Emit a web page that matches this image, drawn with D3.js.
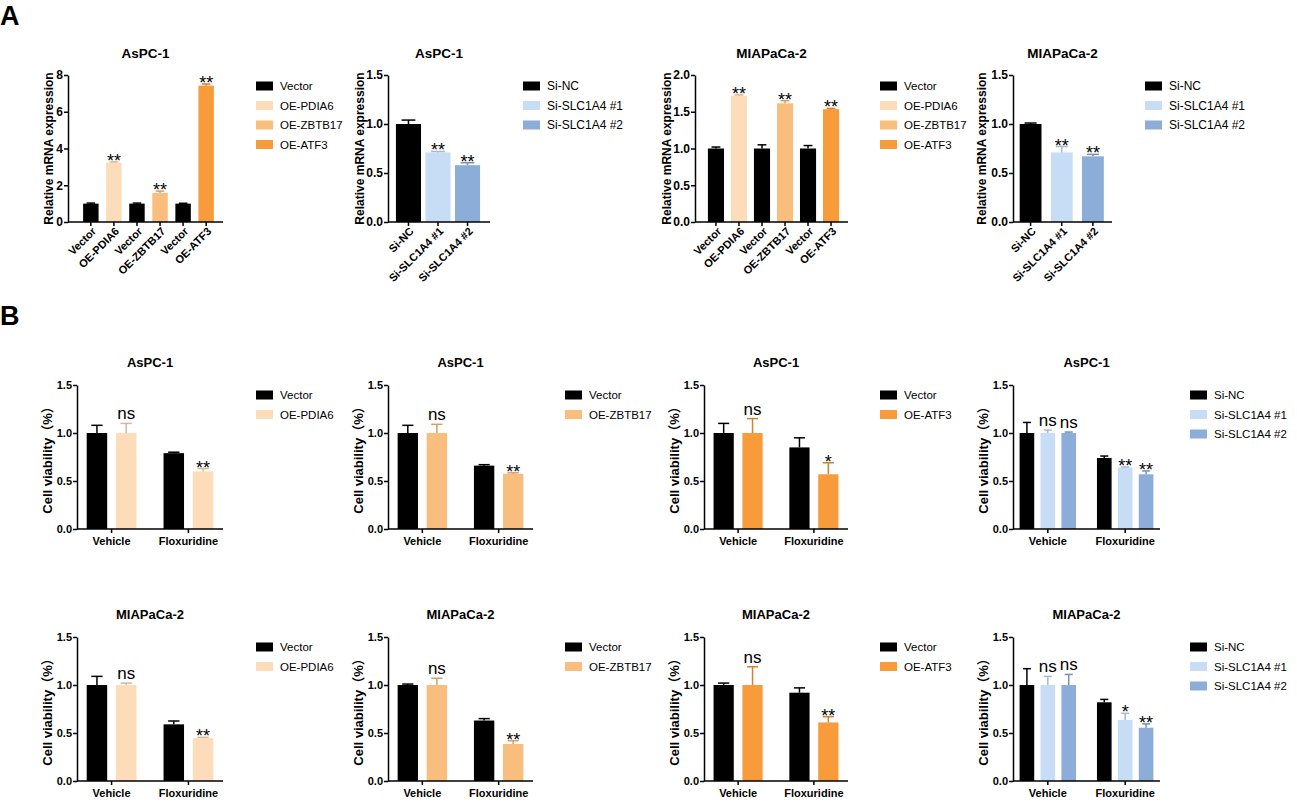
<!DOCTYPE html>
<html lang="en">
<head>
<meta charset="UTF-8">
<title>PDIA6 / ZBTB17 / ATF3 / SLC1A4</title>
<style>
  body { margin: 0; background: #fff; }
  text { font-family: "Liberation Sans", Arial, "Noto Sans CJK SC", sans-serif; fill: #000; }
</style>
</head>
<body>
<svg id="fig" width="1297" height="807"></svg>
<script src="https://cdn.jsdelivr.net/npm/d3@7/dist/d3.min.js"></script>
<script>
// ---------- panel A : qPCR ----------
const oeCats = ["Vector", "OE-PDIA6", "Vector", "OE-ZBTB17", "Vector", "OE-ATF3"]
const siCats = ["Si-NC", "Si-SLC1A4 #1", "Si-SLC1A4 #2"]
const oeLegend = ["Vector", "OE-PDIA6", "OE-ZBTB17", "OE-ATF3"]
const oeSigs = ["", "**", "", "**", "", "**"]
const siSigs = ["", "**", "**"]

const aspcOeMean = [1.00, 3.22, 1.00, 1.58, 1.00, 7.42]
const aspcOeErr  = [0.03, 0.05, 0.03, 0.10, 0.02, 0.09]
const aspcSiMean = [1.00, 0.71, 0.58]
const aspcSiErr  = [0.04, 0.01, 0.025]
const miaOeMean  = [1.00, 1.72, 1.00, 1.615, 1.00, 1.535]
const miaOeErr   = [0.02, 0.01, 0.05, 0.035, 0.04, 0.01]
const miaSiMean  = [1.00, 0.71, 0.67]
const miaSiErr   = [0.01, 0.06, 0.02]

// ---------- panel B : cell viability ----------
const treatments = ["Vehicle", "Floxuridine"]
const pdia6Series = ["Vector", "OE-PDIA6"]
const zbtbSeries  = ["Vector", "OE-ZBTB17"]
const atf3Series  = ["Vector", "OE-ATF3"]
const siSeries    = ["Si-NC", "Si-SLC1A4 #1", "Si-SLC1A4 #2"]

// rows = series, columns = treatments
const aspcPdia6Mean = [[1.00, 0.79], [1.00, 0.60]]
const aspcPdia6Err  = [[0.08, 0.01], [0.10, 0.03]]
const aspcPdia6Sig  = [["", ""], ["ns", "**"]]
const aspcZbtbMean  = [[1.00, 0.66], [1.00, 0.575]]
const aspcZbtbErr   = [[0.08, 0.01], [0.09, 0.01]]
const aspcZbtbSig   = [["", ""], ["ns", "**"]]
const aspcAtf3Mean  = [[1.00, 0.85], [1.00, 0.57]]
const aspcAtf3Err   = [[0.10, 0.10], [0.15, 0.12]]
const aspcAtf3Sig   = [["", ""], ["ns", "*"]]
const aspcSiMeanB   = [[1.00, 0.74], [1.00, 0.64], [1.00, 0.57]]
const aspcSiErrB    = [[0.11, 0.02], [0.03, 0.005], [0.01, 0.035]]
const aspcSiSigB    = [["", ""], ["ns", "**"], ["ns", "**"]]

const miaPdia6Mean = [[1.00, 0.59], [1.00, 0.445]]
const miaPdia6Err  = [[0.09, 0.035], [0.02, 0.01]]
const miaPdia6Sig  = [["", ""], ["ns", "**"]]
const miaZbtbMean  = [[1.00, 0.63], [1.00, 0.385]]
const miaZbtbErr   = [[0.01, 0.02], [0.07, 0.035]]
const miaZbtbSig   = [["", ""], ["ns", "**"]]
const miaAtf3Mean  = [[1.00, 0.92], [1.00, 0.61]]
const miaAtf3Err   = [[0.02, 0.05], [0.19, 0.06]]
const miaAtf3Sig   = [["", ""], ["ns", "**"]]
const miaSiMeanB   = [[1.00, 0.82], [1.00, 0.635], [1.00, 0.555]]
const miaSiErrB    = [[0.17, 0.03], [0.09, 0.07], [0.11, 0.04]]
const miaSiSigB    = [["", ""], ["ns", "*"], ["ns", "**"]]

const colorOf = {
  "Vector": "#000000", "Si-NC": "#000000",
  "OE-PDIA6": "#fcdcb9", "OE-ZBTB17": "#f9bd7e", "OE-ATF3": "#f89b3b",
  "Si-SLC1A4 #1": "#c6ddf5", "Si-SLC1A4 #2": "#8cadd7"
}

let svg = d3.select("#fig")

function errColor(name) {
  return name == "Vector" || name == "Si-NC" ? "#000" : d3.color(colorOf[name]).darker(0.5)
}

function yAxis(g, y, x, ticks, fmt, fs) {
  let ax = g.append("g")
    .attr("transform", `translate(${x},0)`)
    .call(d3.axisLeft(y).tickValues(ticks).tickFormat(fmt).tickSize(4).tickSizeOuter(0).tickPadding(1))
  ax.select(".domain").attr("stroke-width", 1.5)
  ax.selectAll(".tick line").attr("stroke-width", 1.5)
  ax.selectAll("text").attr("font-size", fs).attr("font-weight", "bold")
}

function legend(g, x, y, names, fs) {
  names.forEach((n, i) => {
    g.append("rect").attr("x", x).attr("y", y + i * 19.5 - 4.5)
      .attr("width", 17).attr("height", 9).attr("fill", colorOf[n])
    g.append("text").attr("x", x + 24).attr("y", y + i * 19.5 + 4)
      .attr("font-size", fs).text(n)
  })
}

function sigMark(g, cx, yTop, s) {
  if (!s) return
  let ns = s == "ns"
  g.append("text")
    .attr("x", cx).attr("y", ns ? yTop - 4 : yTop + 5)
    .attr("text-anchor", "middle")
    .attr("font-size", ns ? 17 : 18)
    .text(s)
}

function errBar(g, cx, w, yBase, yTop, col) {
  g.append("line").attr("x1", cx).attr("x2", cx).attr("y1", yBase).attr("y2", yTop)
    .attr("stroke", col).attr("stroke-width", 1.5)
  g.append("line").attr("x1", cx - w / 2).attr("x2", cx + w / 2).attr("y1", yTop).attr("y2", yTop)
    .attr("stroke", col).attr("stroke-width", 1.5)
}

// panel A chart: one bar per category, rotated labels
function chartA(o) {
  let g = svg.append("g")
  let idx = d3.range(o.cats.length)
  let x = d3.scaleBand().domain(idx).range(o.band).paddingInner(o.pi).paddingOuter(o.po)
  let y = d3.scaleLinear().domain([0, o.yMax]).range([222, 75])

  g.append("text").attr("x", (o.axisX + o.axisEnd) / 2).attr("y", 58)
    .attr("text-anchor", "middle").attr("font-size", 13.5).attr("font-weight", "bold").text(o.title)

  g.selectAll("rect.bar").data(idx).join("rect")
    .attr("class", "bar")
    .attr("x", i => x(i)).attr("width", x.bandwidth())
    .attr("y", i => y(o.mean[i])).attr("height", i => y(0) - y(o.mean[i]))
    .attr("fill", i => colorOf[o.cats[i]])

  idx.forEach(i => {
    let cx = x(i) + x.bandwidth() / 2
    errBar(g, cx, x.bandwidth() * 0.55, y(o.mean[i]), y(o.mean[i] + o.err[i]), errColor(o.cats[i]))
    sigMark(g, cx, y(o.mean[i] + o.err[i]), o.sig[i])
  })

  yAxis(g, y, o.axisX, o.ticks, o.fmt, 12)
  g.append("line").attr("x1", o.axisX).attr("x2", o.axisEnd).attr("y1", y(0)).attr("y2", y(0))
    .attr("stroke", "#000").attr("stroke-width", 1.5)
  g.selectAll("line.xt").data(idx).join("line")
    .attr("x1", i => x(i) + x.bandwidth() / 2).attr("x2", i => x(i) + x.bandwidth() / 2)
    .attr("y1", y(0)).attr("y2", y(0) + 4).attr("stroke", "#000").attr("stroke-width", 1.5)
  g.selectAll("text.xl").data(idx).join("text")
    .attr("transform", i => `translate(${x(i) + x.bandwidth() / 2 + 6},${y(0) + 10}) rotate(-45)`)
    .attr("text-anchor", "end").attr("font-size", 11).attr("font-weight", "bold")
    .text(i => o.cats[i])

  g.append("text")
    .attr("transform", `translate(${o.axisX - o.labOff},${(y(0) + y(o.yMax)) / 2}) rotate(-90)`)
    .attr("text-anchor", "middle").attr("dy", "0.35em")
    .attr("font-size", 12).attr("font-weight", "bold").text("Relative mRNA expression")

  legend(g, o.legX, 86, o.legend, o.legFs)
}

// panel B chart: grouped bars, treatment on x
function chartB(o) {
  let g = svg.append("g")
  let y0 = o.y0, y1 = o.y0 - 144
  let x0 = d3.scaleBand().domain(treatments).range([o.axisX, o.axisEnd]).paddingInner(0.2).paddingOuter(0.05)
  let x1 = d3.scaleBand().domain(d3.range(o.series.length)).range([0, x0.bandwidth()])
    .paddingInner(0.3).paddingOuter(o.series.length == 3 ? 0.13 : 0.2)
  let y = d3.scaleLinear().domain([0, 1.5]).range([y0, y1])

  g.append("text").attr("x", (o.axisX + o.axisEnd) / 2).attr("y", y1 - 18)
    .attr("text-anchor", "middle").attr("font-size", 13).attr("font-weight", "bold").text(o.title)

  o.series.forEach((s, si) => {
    treatments.forEach((t, ti) => {
      let m = o.mean[si][ti], e = o.err[si][ti]
      let bx = x0(t) + x1(si)
      g.append("rect").attr("x", bx).attr("width", x1.bandwidth())
        .attr("y", y(m)).attr("height", y(0) - y(m)).attr("fill", colorOf[s])
      let cx = bx + x1.bandwidth() / 2
      errBar(g, cx, x1.bandwidth() * 0.55, y(m), y(m + e), errColor(s))
      sigMark(g, cx, y(m + e), o.sig[si][ti])
    })
  })

  yAxis(g, y, o.axisX, [0, 0.5, 1, 1.5], d3.format(".1f"), 11)
  g.append("line").attr("x1", o.axisX).attr("x2", o.axisEnd).attr("y1", y0).attr("y2", y0)
    .attr("stroke", "#000").attr("stroke-width", 1.5)
  treatments.forEach(t => {
    let cx = x0(t) + x0.bandwidth() / 2
    g.append("line").attr("x1", cx).attr("x2", cx).attr("y1", y0).attr("y2", y0 + 4)
      .attr("stroke", "#000").attr("stroke-width", 1.5)
    g.append("text").attr("x", cx).attr("y", y0 + 16).attr("text-anchor", "middle")
      .attr("font-size", 11).attr("font-weight", "bold").text(t)
  })

  g.append("text")
    .attr("transform", `translate(${o.axisX - 30},${(y0 + y1) / 2}) rotate(-90)`)
    .attr("text-anchor", "middle").attr("dy", "0.35em")
    .attr("font-size", 13).attr("font-weight", "bold").text("Cell viability（%）")

  legend(g, o.legX, y1 + 10, o.series, 11.5)
}

// panel letters
svg.append("text").attr("x", 0).attr("y", 25).attr("font-size", 27).attr("font-weight", "bold").text("A")
svg.append("text").attr("x", 0).attr("y", 325).attr("font-size", 27).attr("font-weight", "bold").text("B")

chartA({title: "AsPC-1", cats: oeCats, mean: aspcOeMean, err: aspcOeErr, sig: oeSigs,
  yMax: 8, ticks: [0, 2, 4, 6, 8], fmt: d3.format("d"),
  axisX: 68, axisEnd: 223, band: [75.5, 221.5], pi: 0.33, po: 0.33, labOff: 19.5,
  legX: 256, legend: oeLegend, legFs: 11.5})
chartA({title: "AsPC-1", cats: siCats, mean: aspcSiMean, err: aspcSiErr, sig: siSigs,
  yMax: 1.5, ticks: [0, 0.5, 1, 1.5], fmt: d3.format(".1f"),
  axisX: 388, axisEnd: 490, band: [391.5, 484.5], pi: 0.15, po: 0.15, labOff: 28,
  legX: 523, legend: siCats, legFs: 12})
chartA({title: "MIAPaCa-2", cats: oeCats, mean: miaOeMean, err: miaOeErr, sig: oeSigs,
  yMax: 2, ticks: [0, 0.5, 1, 1.5, 2], fmt: d3.format(".1f"),
  axisX: 695, axisEnd: 848, band: [701, 846], pi: 0.3, po: 0.3, labOff: 28.5,
  legX: 880, legend: oeLegend, legFs: 11.5})
chartA({title: "MIAPaCa-2", cats: siCats, mean: miaSiMean, err: miaSiErr, sig: siSigs,
  yMax: 1.5, ticks: [0, 0.5, 1, 1.5], fmt: d3.format(".1f"),
  axisX: 1013, axisEnd: 1112, band: [1015, 1108.5], pi: 0.3, po: 0.15, labOff: 31,
  legX: 1145, legend: siCats, legFs: 12})

const bCols = [
  {axisX: 77, axisEnd: 223, legX: 256},
  {axisX: 388, axisEnd: 533, legX: 565},
  {axisX: 704, axisEnd: 848, legX: 880},
  {axisX: 1013, axisEnd: 1160, legX: 1190}
]

chartB({...bCols[0], y0: 529, title: "AsPC-1", series: pdia6Series, mean: aspcPdia6Mean, err: aspcPdia6Err, sig: aspcPdia6Sig})
chartB({...bCols[1], y0: 529, title: "AsPC-1", series: zbtbSeries, mean: aspcZbtbMean, err: aspcZbtbErr, sig: aspcZbtbSig})
chartB({...bCols[2], y0: 529, title: "AsPC-1", series: atf3Series, mean: aspcAtf3Mean, err: aspcAtf3Err, sig: aspcAtf3Sig})
chartB({...bCols[3], y0: 529, title: "AsPC-1", series: siSeries, mean: aspcSiMeanB, err: aspcSiErrB, sig: aspcSiSigB})

chartB({...bCols[0], y0: 781, title: "MIAPaCa-2", series: pdia6Series, mean: miaPdia6Mean, err: miaPdia6Err, sig: miaPdia6Sig})
chartB({...bCols[1], y0: 781, title: "MIAPaCa-2", series: zbtbSeries, mean: miaZbtbMean, err: miaZbtbErr, sig: miaZbtbSig})
chartB({...bCols[2], y0: 781, title: "MIAPaCa-2", series: atf3Series, mean: miaAtf3Mean, err: miaAtf3Err, sig: miaAtf3Sig})
chartB({...bCols[3], y0: 781, title: "MIAPaCa-2", series: siSeries, mean: miaSiMeanB, err: miaSiErrB, sig: miaSiSigB})
</script>
</body>
</html>
